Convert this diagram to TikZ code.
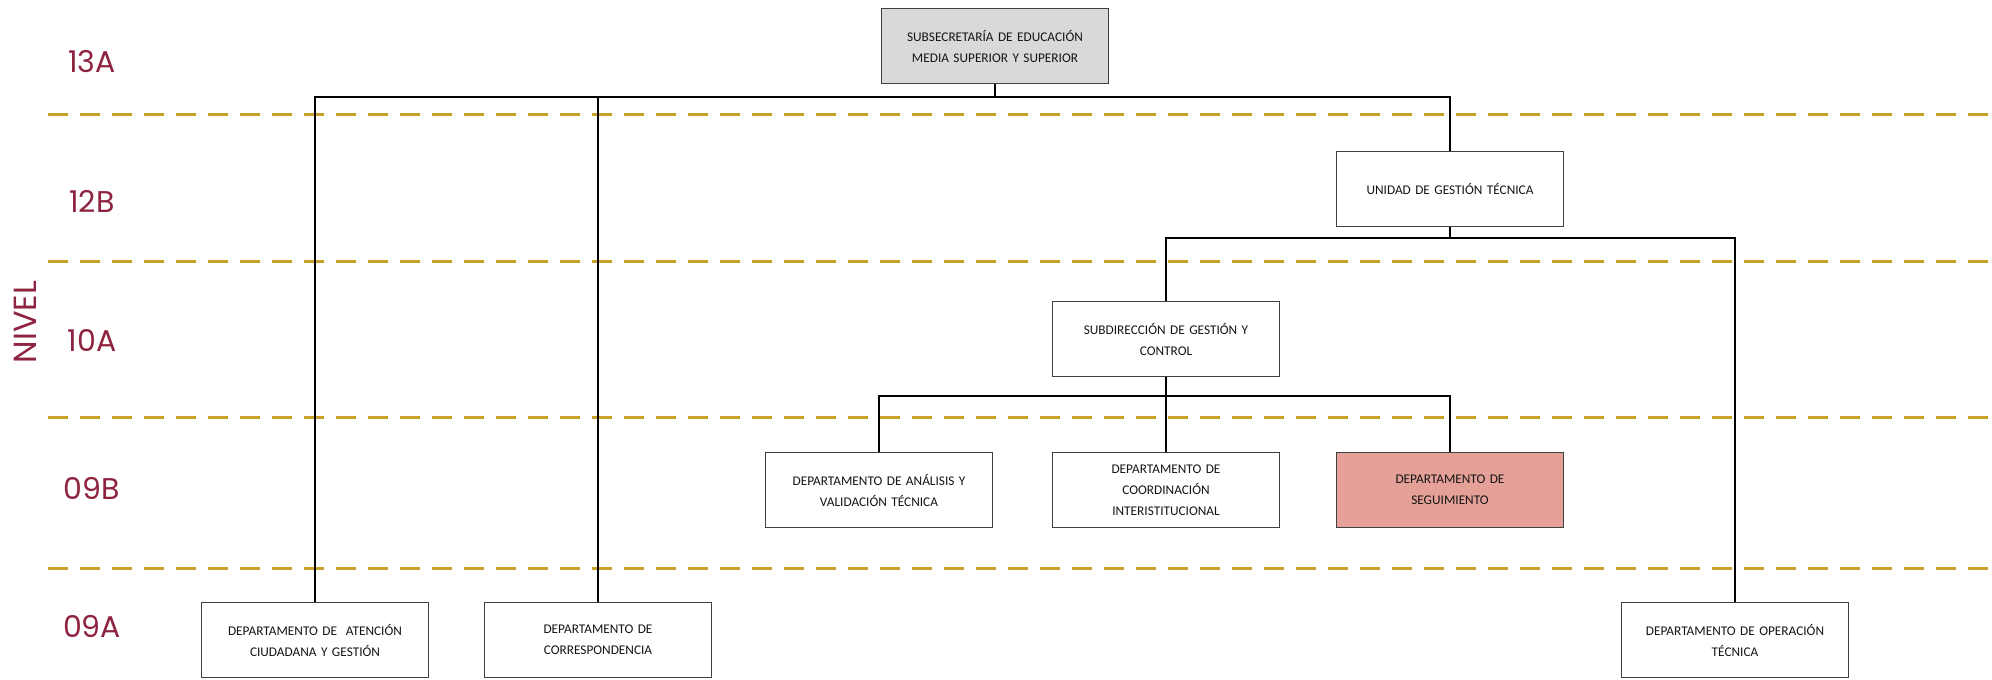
\documentclass[tikz,border=0pt]{standalone}
\usepackage{fontspec}
\setmainfont{Carlito}
\newfontfamily\lvlfont{Poppins}
\definecolor{guinda}{HTML}{8E2340}
\definecolor{oro}{HTML}{C9A22C}
\definecolor{boxgray}{HTML}{D9D9D9}
\definecolor{salmon}{HTML}{E5A198}
\tikzset{
  orgbox/.style={draw=black!75, line width=1.3pt, minimum width=227pt, minimum height=75pt,
    inner sep=0pt, align=center, text width=222pt, text=black!92,
    font=\fontsize{13.3}{21}\selectfont},
  lvl/.style={text=guinda, font=\lvlfont\fontsize{30}{32}\selectfont, inner sep=0pt},
  levelline/.style={oro, line width=3pt, dash pattern=on 20pt off 12pt},
  conn/.style={black, line width=2pt}
}
\begin{document}
\begin{tikzpicture}[x=1pt,y=-1pt]
\useasboundingbox (0,0) rectangle (1992,680);
% level separators
\foreach \yy/\nm in {114/l1,261/l2,417/l3,568/l4}{
  \coordinate (\nm a) at (48,\yy);
  \coordinate (\nm b) at (1992,\yy);
  \draw[levelline] (\nm a) -- (\nm b);
}
% level labels
\node[lvl] (n13a) at (92,62) {13A};
\node[lvl] (n12b) at (92,201) {12B};
\node[lvl] (n10a) at (92,340) {10A};
\node[lvl] (n09b) at (92,488) {09B};
\node[lvl] (n09a) at (92,626) {09A};
\node[lvl, font=\lvlfont\fontsize{32}{34}\selectfont, rotate=90] (nivel) at (25,322) {NIVEL};
% boxes
\node[orgbox, fill=boxgray] (sub) at (995,46) {SUBSECRETARÍA DE EDUCACIÓN\\MEDIA SUPERIOR Y SUPERIOR};
\node[orgbox] (ugt) at (1450,189) {UNIDAD DE GESTIÓN TÉCNICA};
\node[orgbox] (sgc) at (1166,339) {SUBDIRECCIÓN DE GESTIÓN Y\\CONTROL};
\node[orgbox] (dav) at (879,490) {DEPARTAMENTO DE ANÁLISIS Y\\VALIDACIÓN TÉCNICA};
\node[orgbox] (dci) at (1166,490) {DEPARTAMENTO DE\\COORDINACIÓN\\INTERISTITUCIONAL};
\node[orgbox, fill=salmon] (dse) at (1450,490) {DEPARTAMENTO DE\\SEGUIMIENTO};
\node[orgbox] (dac) at (315,640) {DEPARTAMENTO DE\ \ ATENCIÓN\\CIUDADANA Y GESTIÓN};
\node[orgbox] (dco) at (598,640) {DEPARTAMENTO DE\\CORRESPONDENCIA};
\node[orgbox] (dot) at (1735,640) {DEPARTAMENTO DE OPERACIÓN\\TÉCNICA};
% buses
\coordinate (bus1) at (0,97);
\coordinate (bus2) at (0,238);
\coordinate (bus3) at (0,396);
\draw[conn] (dac.north) |- (ugt.north |- bus1) -- (ugt.north);
\draw[conn] (sub.south) -- (sub.south |- bus1);
\draw[conn] (dco.north) -- (dco.north |- bus1);
\draw[conn] (sgc.north) |- (dot.north |- bus2) -- (dot.north);
\draw[conn] (ugt.south) -- (ugt.south |- bus2);
\draw[conn] (dav.north) |- (dse.north |- bus3) -- (dse.north);
\draw[conn] (sgc.south) -- (sgc.south |- bus3);
\draw[conn] (dci.north) -- (dci.north |- bus3);
\end{tikzpicture}
\end{document}
